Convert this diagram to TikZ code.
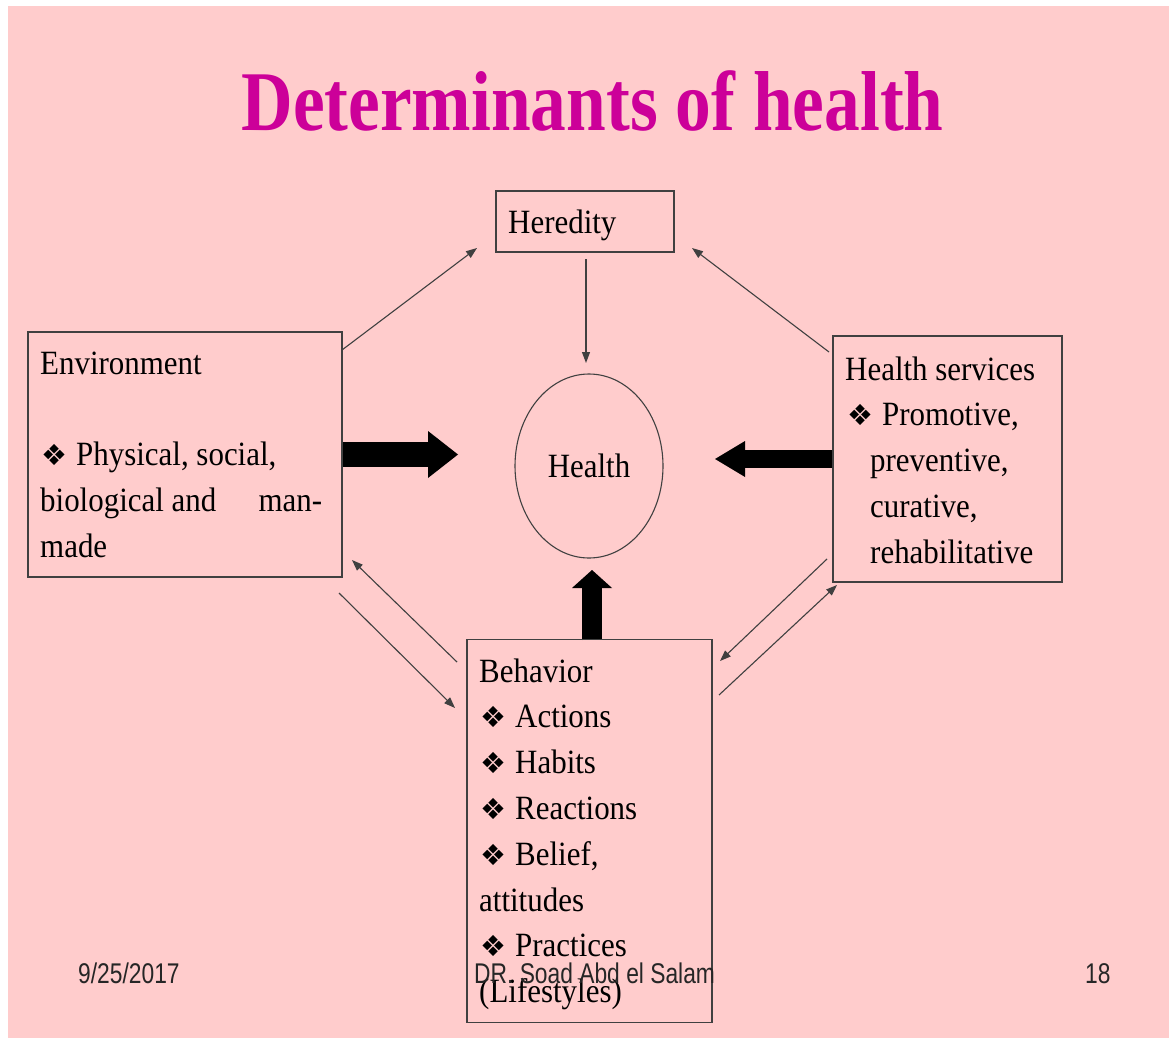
\documentclass[tikz,border=0pt]{standalone}
\usepackage{fontspec}
\setmainfont[FakeStretch=0.91]{Liberation Serif}
\newfontfamily\titlefont[FakeStretch=0.84]{Liberation Serif}
\newfontfamily\footfont[FakeStretch=0.8]{Liberation Sans}
\newfontfamily\symfont{DejaVu Sans}
\usetikzlibrary{arrows.meta,shapes.geometric}
\definecolor{slidepink}{HTML}{FFCCCC}
\definecolor{titlemag}{HTML}{CC0099}
\definecolor{linegray}{HTML}{404040}
\newcommand\bul{\makebox[34pt][l]{\hspace*{-1pt}\symfont\fontsize{29}{29}\selectfont ❖}}
\pgfdeclarelayer{back}
\pgfdeclarelayer{mid}
\pgfsetlayers{back,mid,main}
\begin{document}
\begin{tikzpicture}[x=1pt,y=-1pt,
  box/.style={draw=linegray, line width=1.3pt, rectangle, inner sep=0pt},
  txt/.style={inner sep=0pt, anchor=base west, font=\fontsize{34}{45.8}\selectfont, text=black},
  foot/.style={inner sep=0pt, anchor=base west, font=\footfont\fontsize{28.5}{30}\selectfont, text=black!85},
  thin/.style={draw=linegray, line width=1.1pt, -{Triangle[length=11pt,width=8pt]}},
  bigarrow/.style={draw=black}
]
\begin{pgfonlayer}{back}
\fill[white] (0,0) rectangle (1169,1038);
\fill[slidepink] (8,6) rectangle (1169,1038);
\end{pgfonlayer}
\useasboundingbox (0,0) rectangle (1169,1038);

% title
\node[inner sep=0pt, anchor=base, text=titlemag,
      font=\titlefont\bfseries\fontsize{85}{90}\selectfont] (title) at (592.5,131) {Determinants of health};

% boxes
\node[box, minimum width=178pt, minimum height=61pt] (her) at (585,221.5) {};
\node[txt] (hertxt) at (508,233) {Heredity};

\node[box, minimum width=314pt, minimum height=245pt] (env) at (185,454.5) {};
\node[txt] (envtxt) at (40,374) {\parbox[t]{282pt}{Environment\\[45.8pt]\hspace*{2pt}\bul Physical, social,\\ biological and\hfill man-\\ made}};

\node[box, minimum width=229pt, minimum height=246pt] (hs) at (947.5,459) {};
\node[txt] (hstxt) at (845,380) {\parbox[t]{215pt}{Health services\\ \hspace*{3pt}\bul Promotive,\\ \hspace*{25pt}preventive,\\ \hspace*{25pt}curative,\\ \hspace*{25pt}rehabilitative}};

\node[box, minimum width=245pt, minimum height=383pt] (beh) at (589.5,831) {};
\node[txt] (behtxt) at (479,682) {\parbox[t]{230pt}{Behavior\\ \hspace*{2pt}\bul Actions\\ \hspace*{2pt}\bul Habits\\ \hspace*{2pt}\bul Reactions\\ \hspace*{2pt}\bul Belief,\\ attitudes\\ \hspace*{2pt}\bul Practices\\ (Lifestyles)}};

\node[draw=linegray, line width=1.1pt, ellipse, minimum width=148pt, minimum height=184pt, inner sep=0pt,
      font=\fontsize{34}{45.8}\selectfont] (health) at (589,466) {Health};

% thick arrows
\coordinate (etip) at (458,454.5);
\coordinate (htip) at (715,459);
\coordinate (btail) at (592,640);
\coordinate (btip) at (592,570);
\begin{pgfonlayer}{mid}
\draw[bigarrow, line width=25pt, -{Triangle[length=30pt,width=47pt,line width=0pt]}] (env.east) -- (etip);
\draw[bigarrow, line width=18pt, -{Triangle[length=30pt,width=36pt,line width=0pt]}] (hs.west) -- (htip);
\draw[bigarrow, line width=20pt, -{Triangle[length=18pt,width=40pt,line width=0pt]}] (btail) -- (btip);
\end{pgfonlayer}

% thin arrows
\coordinate (a1s) at (342,350);  \coordinate (a1e) at (477,248);
\coordinate (a2s) at (586,259);  \coordinate (a2e) at (586,363);
\coordinate (a3s) at (829,352);  \coordinate (a3e) at (692,248);
\coordinate (a4s) at (457,662);  \coordinate (a4e) at (352,560);
\coordinate (a5s) at (339,593);  \coordinate (a5e) at (455,708);
\coordinate (a6s) at (827,559);  \coordinate (a6e) at (720,661);
\coordinate (a7s) at (719,695);  \coordinate (a7e) at (837,585);
\draw[thin] (a1s) -- (a1e);
\draw[thin] (a2s) -- (a2e);
\draw[thin] (a3s) -- (a3e);
\draw[thin] (a4s) -- (a4e);
\draw[thin] (a5s) -- (a5e);
\draw[thin] (a6s) -- (a6e);
\draw[thin] (a7s) -- (a7e);

% footer
\node[foot] (date) at (78,983) {9/25/2017};
\node[foot] (author) at (474,983) {DR. Soad Abd el Salam};
\node[foot] (page) at (1085,983) {18};
\end{tikzpicture}
\end{document}
